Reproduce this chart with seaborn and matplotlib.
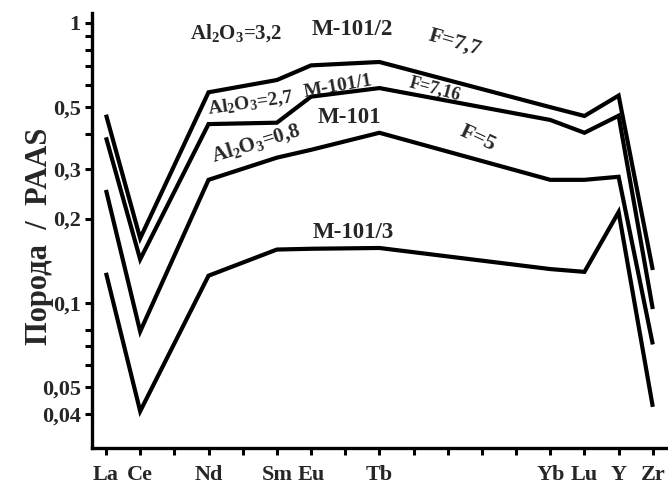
import numpy as np
import pandas as pd
import matplotlib
matplotlib.use("Agg")
import matplotlib.pyplot as plt
from matplotlib.ticker import FixedLocator, NullLocator
import seaborn as sns

# Element order along the x axis (REE row, then Y and Zr)
row_elements = ["La", "Ce", "Pr", "Nd", "Pm", "Sm", "Eu", "Gd", "Tb",
                "Dy", "Ho", "Er", "Tm", "Yb", "Lu", "Y", "Zr"]
elements = ["La", "Ce", "Nd", "Sm", "Eu", "Tb", "Yb", "Lu", "Y", "Zr"]

# Rock / PAAS normalised contents
m101_2 = [0.47, 0.17, 0.565, 0.625, 0.705, 0.725, 0.50, 0.465, 0.55, 0.131]
m101_1 = [0.39, 0.143, 0.435, 0.44, 0.545, 0.585, 0.45, 0.405, 0.466, 0.095]
m101 = [0.253, 0.079, 0.275, 0.33, 0.352, 0.405, 0.275, 0.275, 0.282, 0.071]
m101_3 = [0.128, 0.041, 0.125, 0.155, 0.156, 0.157, 0.132, 0.129, 0.211, 0.0425]

series = {"M-101/2": m101_2, "M-101/1": m101_1, "M-101": m101, "M-101/3": m101_3}

y_ticks = [0.04, 0.05, 0.1, 0.2, 0.3, 0.5, 1]
y_tick_labels = ["0,04", "0,05", "0,1", "0,2", "0,3", "0,5", "1"]
y_minor = [0.06, 0.07, 0.08, 0.4, 0.6, 0.7, 0.8, 0.9]

pos = {el: i for i, el in enumerate(row_elements)}
df = pd.concat(
    [pd.DataFrame({"x": [pos[e] for e in elements], "value": vals,
                   "sample": name})
     for name, vals in series.items()],
    ignore_index=True,
)

sns.set_style("ticks")
plt.rcParams["font.family"] = ["Liberation Serif", "DejaVu Serif"]
plt.rcParams["font.weight"] = "bold"
plt.rcParams["mathtext.fontset"] = "custom"
plt.rcParams["mathtext.rm"] = "Liberation Serif:bold"
plt.rcParams["mathtext.default"] = "rm"

fig = plt.figure(figsize=(6.68, 4.91), dpi=100)
ax = fig.add_axes([0.1377, 0.0876, 0.86, 0.886])

sns.lineplot(data=df, x="x", y="value", units="sample", estimator=None,
             sort=False, color="black", lw=3.0, ax=ax, legend=False)
for line in ax.get_lines():
    line.set_solid_joinstyle("miter")
    line.set_solid_capstyle("butt")

ax.set_yscale("log")
ax.set_ylim(0.0303, 1.085)
ax.set_xlim(-0.41, 16.4)

ax.yaxis.set_major_locator(FixedLocator(y_ticks))
ax.set_yticklabels(y_tick_labels)
ax.yaxis.set_minor_locator(FixedLocator(y_minor))
ax.yaxis.set_minor_formatter(matplotlib.ticker.NullFormatter())

ax.set_xticks(range(len(row_elements)))
ax.set_xticklabels([e if e in elements else "" for e in row_elements])
ax.xaxis.set_minor_locator(NullLocator())

for side in ("top", "right"):
    ax.spines[side].set_visible(False)
for side in ("left", "bottom"):
    ax.spines[side].set_linewidth(2.4)
    ax.spines[side].set_color("black")

ax.tick_params(axis="both", which="both", direction="out", width=2.2,
               color="black", labelsize=16, pad=3)
ax.tick_params(axis="both", which="major", length=5)
ax.tick_params(axis="y", which="minor", length=5)
ax.tick_params(axis="x", pad=7)
for lab in ax.get_xticklabels() + ax.get_yticklabels():
    lab.set_fontweight("bold")

ax.set_xlabel("")
ax.set_ylabel("Порода  /  PAAS", fontsize=22, fontweight="bold")
ax.yaxis.set_label_coords(-0.066, 0.487)

# Sample annotations
notes = [
    ("Al$_2$O$_3$=3,2", 3.80, 0.921, 0, 15),
    ("M-101/2", 7.22, 0.944, 0, 16.5),
    ("F=7,7", 10.20, 0.855, -16, 16),
    ("Al$_2$O$_3$=2,7", 4.24, 0.514, 8, 14),
    ("M-101/1", 6.78, 0.59, 10, 14),
    ("F=7,16", 9.62, 0.581, -15, 13),
    ("M-101", 7.13, 0.458, 0, 16.5),
    ("Al$_2$O$_3$=0,8", 4.39, 0.373, 17, 15),
    ("F=5", 10.88, 0.388, -25, 16),
    ("M-101/3", 7.25, 0.179, 0, 16.5),
]
for text, x, y, rot, size in notes:
    ax.text(x, y, text, ha="center", va="center", rotation=rot,
            rotation_mode="anchor", fontsize=size, fontweight="bold")

fig.savefig("out.png", dpi=100)
